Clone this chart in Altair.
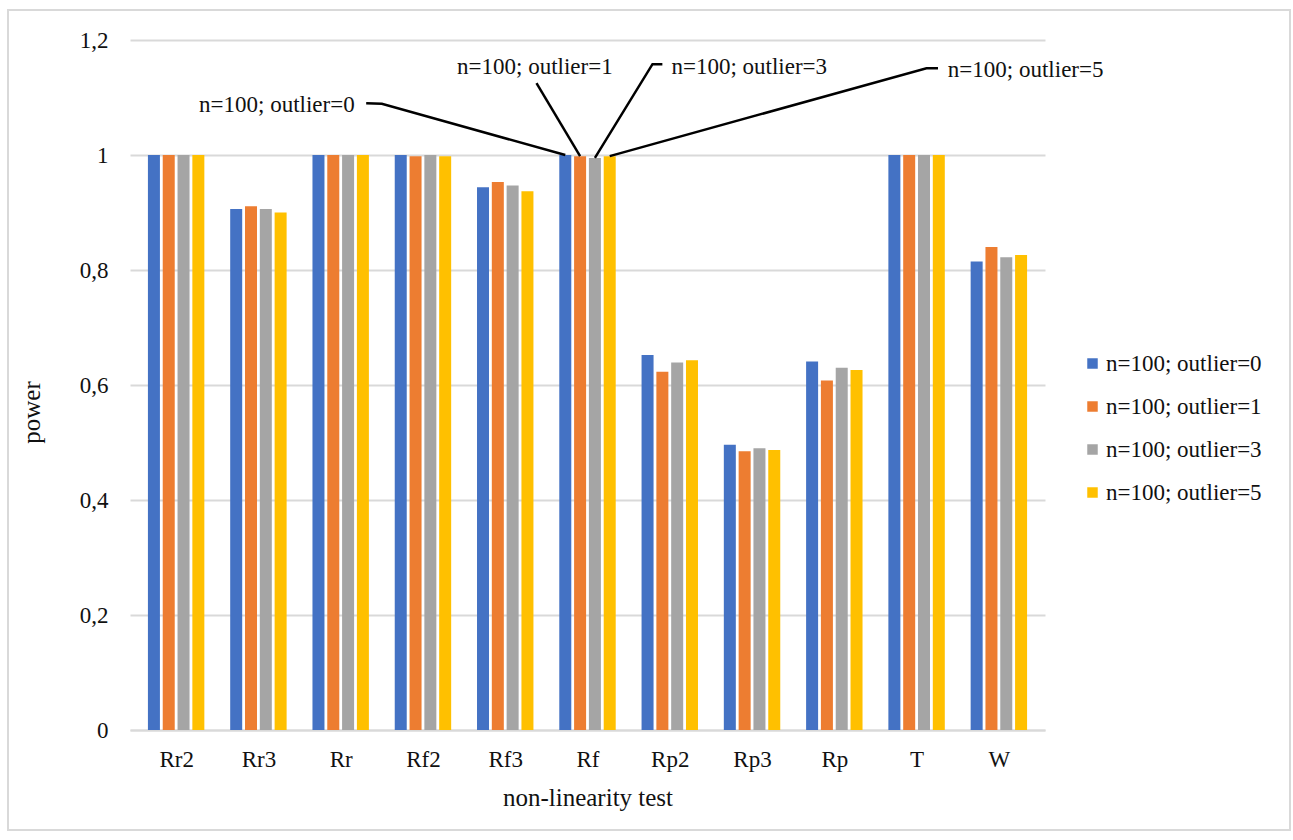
import altair as alt
import pandas as pd

# Non-linearity tests on the x axis
TESTS = ["Rr2", "Rr3", "Rr", "Rf2", "Rf3", "Rf", "Rp2", "Rp3", "Rp", "T", "W"]

# Series: sample size 100 with a varying number of outliers
SERIES = ["n=100; outlier=0", "n=100; outlier=1", "n=100; outlier=3", "n=100; outlier=5"]
COLORS = ["#4472C4", "#ED7D31", "#A5A5A5", "#FFC000"]

# Power of each test, one list per series (same order as TESTS)
POWER_OUT0 = [1.000, 0.906, 1.000, 1.000, 0.944, 1.000, 0.652, 0.496, 0.641, 1.000, 0.815]
POWER_OUT1 = [1.000, 0.911, 1.000, 0.998, 0.953, 0.998, 0.623, 0.485, 0.608, 1.000, 0.840]
POWER_OUT3 = [1.000, 0.906, 1.000, 1.000, 0.947, 0.995, 0.639, 0.490, 0.630, 1.000, 0.822]
POWER_OUT5 = [1.000, 0.900, 1.000, 0.998, 0.937, 0.998, 0.643, 0.487, 0.626, 1.000, 0.826]
POWER = [POWER_OUT0, POWER_OUT1, POWER_OUT3, POWER_OUT5]

Y_TICKS = [0, 0.2, 0.4, 0.6, 0.8, 1.0, 1.2]

# Clustered bar layout (in category units)
BAR_STEP = 0.18
BAR_PX = 12

# Callouts for the "Rf" cluster: label anchor, alignment and leader-line elbows
CALLOUT_TEST = "Rf"
CALLOUTS = [
    {"label": (2.17, 1.087, "right"), "path": [(2.31, 1.090), (2.50, 1.089)]},
    {"label": (4.36, 1.153, "center"), "path": [(4.38, 1.125)]},
    {"label": (6.02, 1.153, "left"), "path": [(5.91, 1.158), (5.79, 1.158)]},
    {"label": (9.38, 1.148, "left"), "path": [(9.26, 1.151), (9.12, 1.151)]},
]

FONT = "Liberation Serif"
TEXT_COLOR = "#111111"
W, H = 915, 690


def bar_pos(tidx, sidx):
    return tidx + (sidx - (len(SERIES) - 1) / 2) * BAR_STEP


rows = []
for s, (name, vals) in enumerate(zip(SERIES, POWER)):
    for t, (test, v) in enumerate(zip(TESTS, vals)):
        rows.append({"test": test, "series": name, "pos": bar_pos(t, s), "power": v})
bars_df = pd.DataFrame(rows)

# Leader lines: elbow points followed by the top of the matching bar
line_rows = []
label_rows = []
ci = TESTS.index(CALLOUT_TEST)
for s, (name, c) in enumerate(zip(SERIES, CALLOUTS)):
    pts = list(c["path"]) + [(bar_pos(ci, s), POWER[s][ci])]
    for k, (px, py) in enumerate(pts):
        line_rows.append({"series": name, "step": k, "x": px, "y": py})
    lx, ly, la = c["label"]
    label_rows.append({"series": name, "x": lx, "y": ly, "align": la})
lines_df = pd.DataFrame(line_rows)
labels_df = pd.DataFrame(label_rows)

x_scale = alt.Scale(domain=[-0.5, len(TESTS) - 0.5], nice=False, zero=False)
y_scale = alt.Scale(domain=[0, 1.2], nice=False)

names_expr = "[" + ",".join(f"'{t}'" for t in TESTS) + "][datum.value]"

bars = alt.Chart(bars_df).mark_bar(size=BAR_PX).encode(
    x=alt.X(
        "pos:Q",
        scale=x_scale,
        axis=alt.Axis(
            values=list(range(len(TESTS))),
            labelExpr=names_expr,
            title="non-linearity test",
            grid=False,
            ticks=False,
            domainColor="#d9d9d9",
            domainWidth=2,
            labelPadding=18,
            labelFontSize=23,
            titleFontSize=25,
            titleFontWeight="normal",
            titleY=67,
            titleBaseline="middle",
        ),
    ),
    y=alt.Y(
        "power:Q",
        scale=y_scale,
        axis=alt.Axis(
            values=Y_TICKS,
            labelExpr="replace(format(datum.value, '~g'), '.', ',')",
            title="power",
            grid=True,
            gridColor="#d9d9d9",
            gridWidth=2,
            domain=False,
            ticks=False,
            labelPadding=22,
            labelFontSize=23,
            titleFontSize=25,
            titleFontWeight="normal",
            titleX=-86,
            titleY=372,
        ),
    ),
    color=alt.Color(
        "series:N",
        scale=alt.Scale(domain=SERIES, range=COLORS),
        sort=SERIES,
        legend=alt.Legend(
            title=None,
            orient="none",
            legendX=951,
            legendY=312,
            symbolType="square",
            symbolSize=110,
            symbolStrokeWidth=0,
            labelFontSize=23,
            labelFont=FONT,
            labelColor=TEXT_COLOR,
            rowPadding=19,
            labelOffset=2,
        ),
    ),
)

leaders = alt.Chart(lines_df).mark_line(color="black", strokeWidth=2.5).encode(
    x=alt.X("x:Q", scale=x_scale),
    y=alt.Y("y:Q", scale=y_scale),
    detail="series:N",
    order=alt.Order("step:Q"),
)

texts = []
for align in ["left", "center", "right"]:
    sub = labels_df[labels_df["align"] == align]
    if len(sub) == 0:
        continue
    texts.append(
        alt.Chart(sub).mark_text(
            align=align, baseline="middle", font=FONT, fontSize=23, color=TEXT_COLOR
        ).encode(
            x=alt.X("x:Q", scale=x_scale),
            y=alt.Y("y:Q", scale=y_scale),
            text="series:N",
        )
    )

frame = alt.Chart(pd.DataFrame({"k": [0]})).mark_rect(
    fill="white", fillOpacity=0, stroke="#d9d9d9", strokeWidth=2
).encode(
    x=alt.value(-122), x2=alt.value(1160), y=alt.value(-30), y2=alt.value(790)
)

chart = (
    alt.layer(frame, bars, leaders, *texts)
    .properties(
        width=W,
        height=H,
        autosize=alt.AutoSizeParams(type="none"),
        padding={"left": 130, "top": 40, "right": 248, "bottom": 110},
        background="white",
    )
    .configure(font=FONT)
    .configure_axis(labelFont=FONT, titleFont=FONT, labelColor=TEXT_COLOR, titleColor=TEXT_COLOR)
    .configure_view(stroke=None)
)

chart.save("out.html", embed_options={"renderer": "svg", "actions": False})
